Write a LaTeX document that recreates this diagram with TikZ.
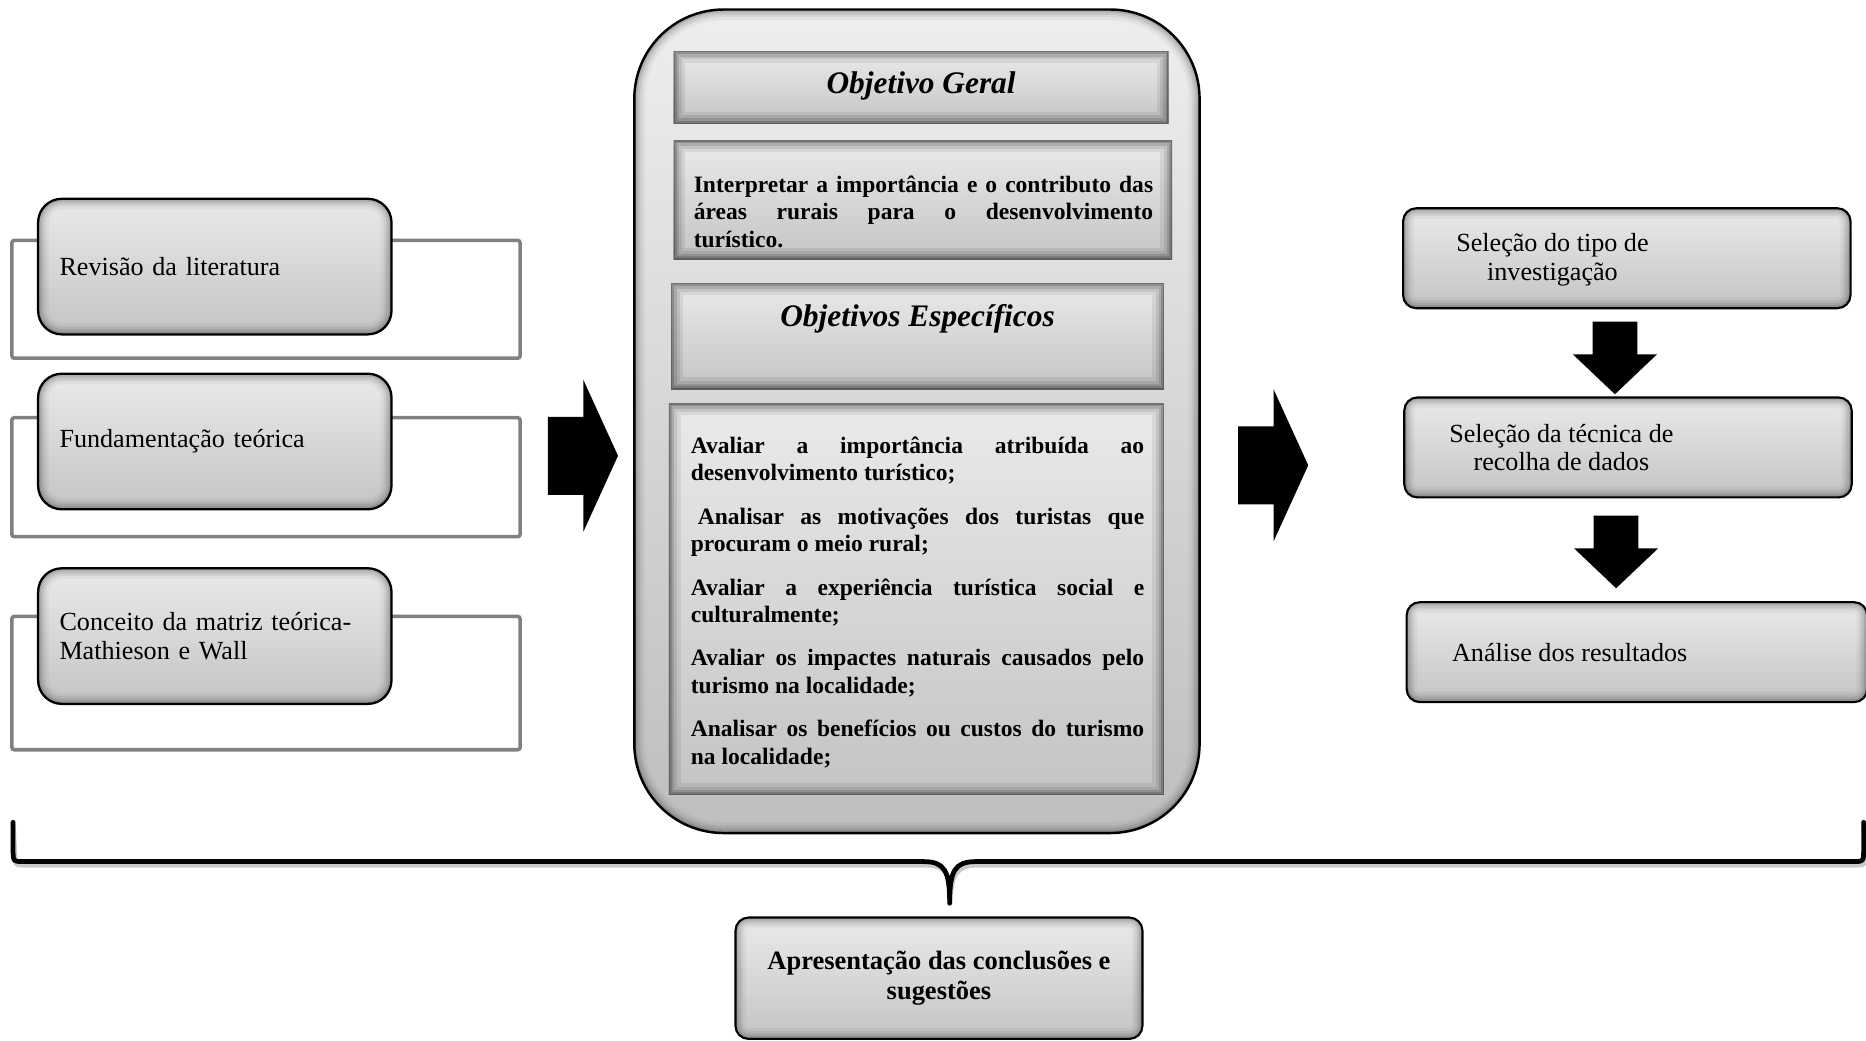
\documentclass[tikz,border=0pt]{standalone}
\usepackage{fontspec}
\setmainfont{Liberation Serif}
\usetikzlibrary{shapes.arrows, positioning}
\definecolor{boxtop}{RGB}{234,234,234}
\definecolor{boxbot}{RGB}{196,196,196}
\definecolor{paneltop}{RGB}{238,238,238}
\definecolor{panelbot}{RGB}{190,190,190}
\definecolor{framegray}{RGB}{128,128,128}
\newcommand{\px}{0.024cm}

\begin{document}
\begin{tikzpicture}[x=\px, y=-\px,
		grayfill/.style = {top color=boxtop, bottom color=boxbot},
		inshadow/.style = {path picture={
				\foreach \w/\o in {18/0.04,13/0.06,9/0.08,5/0.11,2/0.15}
				\draw[line width=\w*\px, black, opacity=\o, rounded corners=#1]
				(path picture bounding box.south west) rectangle (path picture bounding box.north east);}},
		deepshadow/.style = {path picture={
				\foreach \w/\o in {20/0.07,14/0.09,9/0.12,5/0.16,2/0.22}
				\draw[line width=\w*\px, black, opacity=\o]
				(path picture bounding box.south west) rectangle (path picture bounding box.north east);}},
		frame/.style = {draw=framegray, line width=3*\px, rounded corners=2*\px, minimum width=427*\px, inner sep=0pt},
		sidebox/.style = {draw=black, line width=1.3pt, rounded corners=20*\px, grayfill, inshadow=20*\px,
			minimum width=297*\px, minimum height=114*\px, text width=261*\px, inner sep=0pt, align=left,
			font=\fontsize{15}{16.5}\selectfont},
		rbox/.style = {draw=black, line width=1.2pt, rounded corners=11*\px, grayfill, inshadow=11*\px,
			minimum height=84*\px, inner sep=0pt},
		rtext/.style = {align=center, inner sep=0pt, font=\fontsize{15}{16.5}\selectfont},
		panel/.style = {draw=black, line width=1.4pt, rounded corners=75*\px, top color=paneltop, bottom color=panelbot,
			inshadow=75*\px, minimum width=475*\px, minimum height=692*\px, inner sep=0pt},
		band/.style = {grayfill, deepshadow, inner sep=0pt},
		title/.style = {inner sep=0pt, font=\fontsize{18}{21}\selectfont\bfseries\itshape},
		body/.style = {inner sep=0pt, align=justify, font=\fontsize{13.5}{15.6}\selectfont\bfseries},
		bigarrow/.style = {single arrow, fill=black, inner xsep=0pt, inner ysep=32.5*\px, anchor=tail,
			minimum height=59*\px, single arrow head extend=31*\px, single arrow tip angle=131},
		downarrow/.style = {single arrow, fill=black, inner xsep=18.5*\px, inner ysep=0pt, anchor=tail,
			shape border rotate=270, minimum height=61*\px, single arrow head extend=16.5*\px, single arrow tip angle=93},
		bracket/.style = {line width=4*\px, line join=round, line cap=round},
		finalbox/.style = {draw=black, line width=1.2pt, rounded corners=11*\px, grayfill, inshadow=11*\px,
			minimum width=342*\px, minimum height=102*\px, inner sep=0pt, align=center,
			font=\fontsize{15.2}{16.7}\selectfont\bfseries}
		]
		\useasboundingbox (0,0) rectangle (1568,874);
		
		% left column
		\node (f1) [frame, minimum height=99*\px] at (223.5,251.5) {};
		\node (f2) [frame, minimum height=100*\px] at (223.5,401) {};
		\node (f3) [frame, minimum height=112*\px] at (223.5,574) {};
		\node (rev) [sidebox] at (180.5,224) {Revisão da literatura};
		\node (fund) [sidebox] at (180.5,371) {Fundamentação teórica};
		\node (conc) [sidebox] at (180.5,534.5) {Conceito da matriz teórica-\\Mathieson e Wall};
		
		\node (arrL) [bigarrow] at (460,383) {};
		
		% objectives
		\node (panel) [panel] at (770.5,354) {};
		\node (geral) [band, minimum width=416*\px, minimum height=61*\px] at (774,73.5) {};
		\node (geraltxt) [title] at (774,72) {Objetivo Geral};
		\node (interp) [band, minimum width=419*\px, minimum height=100*\px] at (775.5,168) {};
		\node (interptxt) [body, text width=386*\px] at (776,178) {Interpretar a importância e o contributo das\linebreak
			áreas rurais para o desenvolvimento\linebreak turístico.};
		\node (espec) [band, minimum width=414*\px, minimum height=89*\px] at (771,282.5) {};
		\node (espectxt) [title] at (771,267.5) {Objetivos Específicos};
		\node (lista) [band, minimum width=416*\px, minimum height=329*\px] at (770,503.5) {};
		\node (listatxt) [body, text width=381*\px] at (771,506) {%
			Avaliar a importância atribuída ao\linebreak desenvolvimento turístico;\par\vspace{9.5pt}
			\hspace*{0.3em}Analisar as motivações dos turistas que\linebreak procuram o meio rural;\par\vspace{9.5pt}
			Avaliar a experiência turística social e\linebreak culturalmente;\par\vspace{9.5pt}
			Avaliar os impactes naturais causados pelo\linebreak turismo na localidade;\par\vspace{9.5pt}
			Analisar os benefícios ou custos do turismo\linebreak na localidade;};
		
		\node (arrR) [bigarrow] at (1040,391) {};
		
		% method steps
		\node (tipo) [rbox, minimum width=376*\px] at (1367,217) {};
		\node (tipotxt) [rtext] at (1304.5,218) {Seleção do tipo de\\investigação};
		\node (arrD1) [downarrow] at (1357,270) {};
		\node (tecnica) [rbox, minimum width=376*\px] at (1368,376) {};
		\node (tecnicatxt) [rtext] at (1312,376) {Seleção da técnica de\\recolha de dados};
		\node (arrD2) [downarrow] at (1358,433) {};
		\node (analise) [rbox, minimum width=387*\px] at (1375.5,548) {};
		\node (analisetxt) [rtext] at (1319,548) {Análise dos resultados};
		
		% bracket and conclusion
		\coordinate (braceL) at (11,691);
		\coordinate (braceR) at (1566,691);
		\coordinate (braceTip) at (798,759);
		\draw[bracket, black!35, opacity=0.6, shift={(1.5,3)}] (braceL) -- (11,714) .. controls (11,724) .. (21,724) -- (776,724)
			.. controls (794,724) and (798,732) .. (braceTip) .. controls (798,732) and (802,724) .. (820,724)
			-- (1556,724) .. controls (1566,724) .. (1566,714) -- (braceR);
		\draw[bracket] (braceL) -- (11,714) .. controls (11,724) .. (21,724) -- (776,724)
			.. controls (794,724) and (798,732) .. (braceTip) .. controls (798,732) and (802,724) .. (820,724)
			-- (1556,724) .. controls (1566,724) .. (1566,714) -- (braceR);
		\node (final) [finalbox] at (789,822) {Apresentação das conclusões e\\sugestões};
	\end{tikzpicture}
\end{document}
